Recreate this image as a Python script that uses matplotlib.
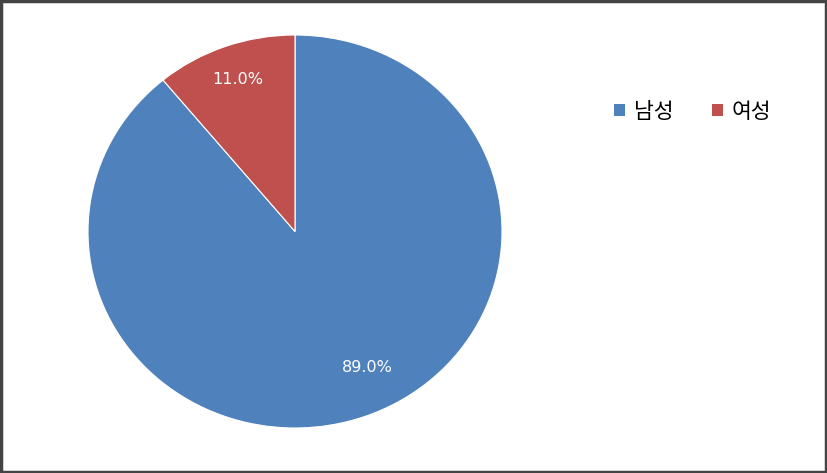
import matplotlib.pyplot as plt
from matplotlib.patches import Rectangle, Patch

plt.rcParams['font.family'] = ['Noto Sans CJK KR', 'DejaVu Sans']

labels = ['남성', '여성']
values = [89.0, 11.0]
colors = ['#4F81BD', '#C0504D']

W, H = 827, 473
fig = plt.figure(figsize=(W / 100, H / 100), dpi=100)

# pie area in pixels (slightly stretched like the original)
left, right, top, bottom = 88, 502, 35, 428
ax = fig.add_axes([left / W, 1 - bottom / H, (right - left) / W, (bottom - top) / H])

wedges, texts, autotexts = ax.pie(
    values, colors=colors, startangle=90, counterclock=False,
    autopct='%.1f%%', pctdistance=0.82,
    wedgeprops=dict(edgecolor='white', linewidth=0.8),
    textprops=dict(color='white', fontsize=11.5, family=['DejaVu Sans']))
ax.set_aspect('auto')
ax.set_xlim(-1, 1)
ax.set_ylim(-1, 1)

# Excel-style nudge of the big label
autotexts[0].set_position((0.35, -0.69))

handles = [Patch(facecolor=c, edgecolor='none') for c in colors]
fig.legend(handles, labels, loc='center left',
           bbox_to_anchor=(595 / W, 1 - 112 / H), ncol=2, frameon=False,
           fontsize=15.5, handlelength=0.5, handleheight=0.5,
           handletextpad=0.4, columnspacing=1.8)

fig.add_artist(Rectangle((0.0015, 0.002), 0.997, 0.996, transform=fig.transFigure,
                         fill=False, edgecolor='#444444', linewidth=2.5))

fig.savefig('out.png', dpi=100)
